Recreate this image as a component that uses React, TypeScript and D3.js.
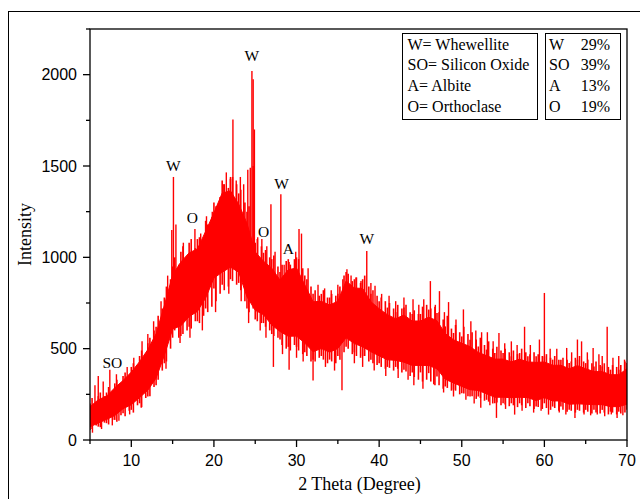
import React from 'react';
import * as d3 from 'd3';

// 2θ grid (degrees)
const theta = [5,6,7,8,9,10,11,12,13,14,15,16,17,18,19,20,21,22,23,24,25,26,27,28,29,30,31,32,33,34,35,36,37,38,39,40,41,42,43,44,45,46,47,48,49,50,51,52,53,54,55,56,57,58,59,60,61,62,63,64,65,66,67,68,69,70];
// upper edge of the noise band (intensity)
const upper = [200,240,260,310,350,400,460,530,620,780,950,1030,1080,1100,1200,1300,1420,1430,1350,1250,1080,1025,990,920,990,1000,900,800,800,780,800,920,880,880,800,760,725,700,725,690,690,714,695,622,586,567,549,512,495,476,476,458,476,458,458,458,440,440,421,440,421,403,403,385,385,421];
// lower edge of the noise band (intensity)
const lower = [55,73,92,110,147,165,201,238,300,420,560,570,620,650,720,830,850,880,860,720,660,640,580,550,510,510,480,440,460,440,460,510,480,460,440,420,400,400,385,370,370,366,348,293,275,256,238,238,220,201,201,201,201,201,183,201,183,183,165,165,165,165,165,155,155,165];

// half-degree grid for the noise fringe (5.25, 5.75, ... 69.75)
const fringeStart = 5.25;
const fringeStep = 0.5;
// top of the noise fringe at each half-degree point
const fringeTop = [230,210,260,240,290,270,330,310,370,350,420,400,490,470,560,600,680,720,840,880,1000,960,1060,1000,1100,1050,1110,1090,1180,1220,1280,1330,1400,1380,1440,1400,1370,1300,1280,1500,1100,1060,1040,1000,1010,950,960,980,960,990,990,940,880,840,820,790,820,780,800,790,840,900,910,870,890,860,900,840,820,790,780,760,750,720,740,720,740,700,710,690,730,740,720,730,700,660,680,610,630,590,620,580,590,550,560,520,540,500,510,490,500,480,490,470,500,480,470,480,470,460,470,450,460,440,450,440,430,450,460,430,440,420,430,410,420,400,410,400,410,430];
// bottom of the noise fringe at each half-degree point
const fringeBottom = [60,80,70,95,85,110,100,135,130,160,150,190,180,230,240,290,330,380,430,500,600,560,580,600,610,650,640,680,700,730,760,800,820,840,870,850,820,760,700,720,650,640,620,600,570,560,520,500,490,520,490,470,460,430,430,450,440,420,430,420,440,480,500,470,460,450,460,430,420,410,400,390,395,380,390,370,375,350,345,330,320,330,320,300,300,280,285,270,270,250,255,240,240,225,230,215,210,200,205,190,195,185,190,180,190,175,185,170,180,170,175,165,175,160,165,155,160,150,160,150,155,145,150,145,150,140,150,140,145,150];

// sharp upward spikes [2θ, intensity]
const upSpikes: [number, number][] = [
  [5.6,300],[6.0,350],[6.6,320],[7.4,385],[8.2,360],[9.5,400],[10.3,450],[11.3,540],[12.0,580],[12.7,650],[13.6,760],[14.4,900],
  [14.9,1150],[15.1,1440],[15.4,1180],[16.3,1080],[17.7,1155],[18.4,1130],[19.1,1225],[19.8,1250],[20.7,1300],[21.2,1400],[21.5,1465],
  [22.0,1440],[22.3,1755],[22.7,1420],[23.2,1440],[23.6,1400],[24.1,1480],[24.4,1490],[24.6,2020],[24.75,1975],[24.9,1700],[25.3,1110],
  [25.8,1100],[26.4,1060],[26.9,1290],[27.4,1030],[28.1,1345],[28.5,960],[29.1,975],[29.9,1030],[30.3,1155],[30.6,1130],[31.4,940],
  [32.6,850],[33.4,830],[34.2,820],[35.0,850],[35.6,880],[36.1,935],[36.6,900],[37.2,890],[37.8,870],[38.5,1035],[39.0,860],[39.5,845],
  [40.3,800],[41.2,790],[42.0,760],[43.0,780],[44.1,770],[44.8,740],[45.4,770],[46.2,870],[46.8,740],[47.3,815],[47.9,700],[48.4,755],
  [49.3,660],[50.2,715],[51.1,650],[51.7,600],[52.4,590],[53.1,590],[53.8,540],[54.5,586],[55.2,530],[56.0,540],[56.7,520],[57.6,620],
  [58.3,520],[59.4,550],[60.0,805],[60.7,500],[61.5,500],[62.7,504],[63.3,480],[64.0,550],[64.5,540],[65.2,480],[65.9,504],[66.6,470],
  [67.0,460],[67.6,620],[68.3,450],[69.0,460],[69.7,440]
];
// sharp downward spikes [2θ, intensity]
const downSpikes: [number, number][] = [
  [5.3,40],[6.4,60],[7.7,80],[8.5,105],[9.8,140],[11.2,176],[12.8,346],[14.2,390],[15.9,531],[17.1,560],[18.6,600],[20.2,700],[21.8,800],
  [23.3,760],[24.2,640],[25.6,600],[26.3,560],[27.2,400],[28.3,470],[29.1,385],[30.0,450],[30.8,430],[32.0,326],[33.5,400],[34.6,380],
  [35.5,272],[37.0,420],[38.0,400],[39.4,380],[40.8,350],[42.3,340],[43.5,330],[44.2,300],[45.3,280],[46.6,305],[47.8,260],[49.0,238],
  [50.5,220],[51.5,200],[52.3,176],[53.4,190],[54.2,121],[55.3,170],[56.4,139],[57.3,160],[58.7,150],[59.6,160],[60.5,139],[61.8,150],
  [62.6,140],[63.7,121],[64.8,140],[65.6,135],[66.4,140],[67.3,130],[68.1,140],[68.8,121],[69.5,135]
];

// peak labels [2θ, intensity at label baseline, text]
const peakLabels: [number, number, string][] = [
  [15.1, 1470, 'W'],
  [17.4, 1188, 'O'],
  [24.6, 2075, 'W'],
  [28.2, 1375, 'W'],
  [26.0, 1111, 'O'],
  [29.0, 1020, 'A'],
  [38.5, 1075, 'W'],
  [7.7, 395, 'SO'],
];

const legendNames = ['W= Whewellite', 'SO= Silicon Oxide', 'A= Albite', 'O= Orthoclase'];
const legendCodes = ['W', 'SO', 'A', 'O'];
const legendPcts = ['29%', '39%', '13%', '19%'];

const xMajor = [10, 20, 30, 40, 50, 60, 70];
const xMinor = [5, 15, 25, 35, 45, 55, 65];
const yMajor = [0, 500, 1000, 1500, 2000];
const yMinor = [250, 750, 1250, 1750, 2250];

const W = 640, H = 499;
const L = 90, R = 627, T = 29, B = 440;

export default function App() {
  const x = d3.scaleLinear().domain([5, 70]).range([L, R]);
  const y = d3.scaleLinear().domain([0, 2250]).range([B, T]);
  const upAt = d3.scaleLinear().domain(theta).range(upper);
  const loAt = d3.scaleLinear().domain(theta).range(lower);
  const mid = (t: number) => (upAt(t) + loAt(t)) / 2;
  const inset = 0.12;
  const band = d3.area<number>()
    .x((_, i) => x(theta[i]))
    .y0((_, i) => y(lower[i] + (upper[i] - lower[i]) * inset))
    .y1((_, i) => y(upper[i] - (upper[i] - lower[i]) * inset));
  const fringeT = fringeTop.map((_, i) => fringeStart + i * fringeStep);
  const red = '#ff0000';
  const serif = '"Liberation Serif", "Times New Roman", serif';
  const sans = '"Liberation Sans", Arial, sans-serif';
  return (
    <svg width={W} height={H} style={{ position: 'fixed', left: 0, top: 0, background: '#fff' }}>
      <rect x={0} y={0} width={W} height={H} fill="#fff" />
      <rect x={8.5} y={11.5} width={W} height={H} fill="none" stroke="#000" strokeWidth={1} />
      <defs>
        <clipPath id="clip"><rect x={L} y={T} width={R - L} height={B - T} /></clipPath>
      </defs>
      <g clipPath="url(#clip)">
        <path d={band(upper) || ''} fill={red} stroke={red} strokeWidth={1} />
        {fringeT.map((t, i) => (
          <line key={'ft' + i} x1={x(t)} x2={x(t)} y1={y(mid(t))} y2={y(fringeTop[i])} stroke={red} strokeWidth={1.6} />
        ))}
        {fringeT.map((t, i) => (
          <line key={'fb' + i} x1={x(t)} x2={x(t)} y1={y(mid(t))} y2={y(fringeBottom[i])} stroke={red} strokeWidth={1.6} />
        ))}
        {theta.map((t, i) => (
          <line key={'gu' + i} x1={x(t)} x2={x(t)} y1={y(lower[i])} y2={y(upper[i])} stroke={red} strokeWidth={1.6} />
        ))}
        {upSpikes.map(([t, v], i) => (
          <line key={'u' + i} x1={x(t)} x2={x(t)} y1={y(mid(t))} y2={y(v)} stroke={red} strokeWidth={1.4} />
        ))}
        {downSpikes.map(([t, v], i) => (
          <line key={'d' + i} x1={x(t)} x2={x(t)} y1={y(mid(t))} y2={y(v)} stroke={red} strokeWidth={1.4} />
        ))}
      </g>
      {/* frame */}
      <rect x={L} y={T} width={R - L} height={B - T} fill="none" stroke="#000" strokeWidth={1.3} />
      {/* y ticks */}
      {yMajor.map(v => (
        <g key={'ym' + v}>
          <line x1={L - 7} x2={L} y1={y(v)} y2={y(v)} stroke="#000" strokeWidth={1.3} />
          <text x={L - 13} y={y(v) + 5.5} textAnchor="end" fontFamily={sans} fontSize={16} fill="#000">{v}</text>
        </g>
      ))}
      {yMinor.map(v => (
        <line key={'yn' + v} x1={L - 4} x2={L} y1={y(v)} y2={y(v)} stroke="#000" strokeWidth={1.3} />
      ))}
      {/* x ticks */}
      {xMajor.map(v => (
        <g key={'xm' + v}>
          <line x1={x(v)} x2={x(v)} y1={B} y2={B + 7} stroke="#000" strokeWidth={1.3} />
          <text x={x(v)} y={B + 26} textAnchor="middle" fontFamily={sans} fontSize={16} fill="#000">{v}</text>
        </g>
      ))}
      {xMinor.map(v => (
        <line key={'xn' + v} x1={x(v)} x2={x(v)} y1={B} y2={B + 4} stroke="#000" strokeWidth={1.3} />
      ))}
      {/* axis titles */}
      <text x={(L + R) / 2 + 1} y={490} textAnchor="middle" fontFamily={serif} fontSize={18} fill="#000">2 Theta (Degree)</text>
      <text transform={`translate(31,${(T + B) / 2}) rotate(-90)`} textAnchor="middle" fontFamily={serif} fontSize={18} fill="#000">Intensity</text>
      {/* peak labels */}
      {peakLabels.map(([t, v, s], i) => (
        <text key={'p' + i} x={x(t)} y={y(v)} textAnchor="middle" fontFamily={serif} fontSize={15.5} fill="#000">{s}</text>
      ))}
      {/* legend boxes */}
      <rect x={402.5} y={33.5} width={135} height={86} fill="#fff" stroke="#000" strokeWidth={1} />
      {legendNames.map((s, i) => (
        <text key={'ln' + i} x={407.5} y={49.5 + i * 20.7} fontFamily={serif} fontSize={16} fill="#000">{s}</text>
      ))}
      <rect x={545.5} y={33.5} width={75} height={86} fill="#fff" stroke="#000" strokeWidth={1} />
      {legendCodes.map((s, i) => (
        <text key={'lc' + i} x={549} y={49.5 + i * 20.7} fontFamily={serif} fontSize={16} fill="#000">{s}</text>
      ))}
      {legendPcts.map((s, i) => (
        <text key={'lp' + i} x={610} y={49.5 + i * 20.7} textAnchor="end" fontFamily={serif} fontSize={16} fill="#000">{s}</text>
      ))}
    </svg>
  );
}
